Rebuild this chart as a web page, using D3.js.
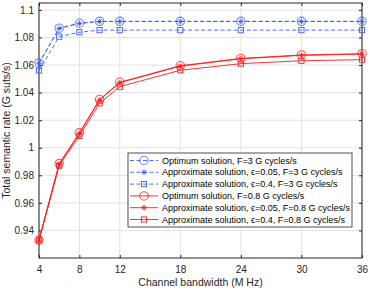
<!DOCTYPE html>
<html>
<head>
<meta charset="utf-8">
<script src="https://cdn.jsdelivr.net/npm/d3@7"></script>
<style>
  body { margin: 0; background: #fff; }
  svg { font-family: "Liberation Sans", Arial, sans-serif; }
</style>
</head>
<body>
<figure style="margin:0"></figure>
<script>
const bandwidth = [4, 6, 8, 10, 12, 18, 24, 30, 36];
const xTicks = [4, 8, 12, 18, 24, 30, 36];
const yTicks = [0.94, 0.96, 0.98, 1, 1.02, 1.04, 1.06, 1.08, 1.1];

const optF3 = [1.0615, 1.0867, 1.0903, 1.0917, 1.0917, 1.0917, 1.0917, 1.0917, 1.0917];
const eps005F3 = [1.0612, 1.0865, 1.0902, 1.0916, 1.0916, 1.0916, 1.0916, 1.0916, 1.0916];
const eps04F3 = [1.0560, 1.0806, 1.0838, 1.0853, 1.0853, 1.0853, 1.0853, 1.0853, 1.0853];
const optF08 = [0.9330, 0.9885, 1.0108, 1.0350, 1.0475, 1.0595, 1.0648, 1.0673, 1.0682];
const eps005F08 = [0.9329, 0.9880, 1.0103, 1.0346, 1.0472, 1.0592, 1.0645, 1.0670, 1.0679];
const eps04F08 = [0.9328, 0.9870, 1.0086, 1.0322, 1.0443, 1.0562, 1.0610, 1.0631, 1.0639];

const labels = [
  "Optimum solution, F=3 G cycles/s",
  "Approximate solution, ϵ=0.05, F=3 G cycles/s",
  "Approximate solution, ϵ=0.4, F=3 G cycles/s",
  "Optimum solution, F=0.8 G cycles/s",
  "Approximate solution, ϵ=0.05, F=0.8 G cycles/s",
  "Approximate solution, ϵ=0.4, F=0.8 G cycles/s",
];

const blue = "#3a5cff";
const red = "#ff1a1a";

const series = [
  { values: optF3, color: blue, dash: "4,2.5", marker: "circle" },
  { values: eps005F3, color: blue, dash: "4,2.5", marker: "star" },
  { values: eps04F3, color: blue, dash: "4,2.5", marker: "square" },
  { values: optF08, color: red, dash: null, marker: "circle" },
  { values: eps005F08, color: red, dash: null, marker: "star" },
  { values: eps04F08, color: red, dash: null, marker: "square" },
];

const width = 370;
const height = 291;
const margin = { top: 3, right: 8, bottom: 33, left: 39 };

const svg = d3.select("figure").append("svg")
  .attr("width", width).attr("height", height);

const x = d3.scaleLinear().domain([4, 36])
  .range([margin.left, width - margin.right]);
const y = d3.scaleLinear().domain([0.92, 1.105])
  .range([height - margin.bottom, margin.top]);

// grid
svg.append("g").selectAll("line.gx").data(xTicks).enter().append("line")
  .attr("x1", d => x(d)).attr("x2", d => x(d))
  .attr("y1", y.range()[0]).attr("y2", y.range()[1])
  .attr("stroke", "#e3e3e3").attr("stroke-width", 1);
svg.append("g").selectAll("line.gy").data(yTicks).enter().append("line")
  .attr("y1", d => y(d)).attr("y2", d => y(d))
  .attr("x1", x.range()[0]).attr("x2", x.range()[1])
  .attr("stroke", "#e3e3e3").attr("stroke-width", 1);

// axes (ticks inward)
const axisColor = "#262626";
const styleAxis = g => {
  g.select(".domain").remove();
  g.selectAll(".tick line").attr("stroke", axisColor);
  g.selectAll(".tick text").attr("fill", axisColor).style("font-size", "10px");
};
svg.append("g")
  .attr("transform", `translate(0,${y.range()[0]})`)
  .call(d3.axisBottom(x).tickValues(xTicks).tickSizeInner(-3).tickSizeOuter(0).tickPadding(8))
  .call(styleAxis);
svg.append("g")
  .attr("transform", `translate(0,${y.range()[1]})`)
  .call(d3.axisTop(x).tickValues(xTicks).tickSizeInner(-3).tickSizeOuter(0).tickFormat(""))
  .call(styleAxis);
svg.append("g")
  .attr("transform", `translate(${x.range()[0]},0)`)
  .call(d3.axisLeft(y).tickValues(yTicks).tickSizeInner(-3).tickSizeOuter(0).tickPadding(5)
    .tickFormat(d => d3.format("")(+d.toFixed(2))))
  .call(styleAxis);
svg.append("g")
  .attr("transform", `translate(${x.range()[1]},0)`)
  .call(d3.axisRight(y).tickValues(yTicks).tickSizeInner(-3).tickSizeOuter(0).tickFormat(""))
  .call(styleAxis);

svg.append("rect")
  .attr("x", x.range()[0]).attr("y", y.range()[1])
  .attr("width", x.range()[1] - x.range()[0])
  .attr("height", y.range()[0] - y.range()[1])
  .attr("fill", "none").attr("stroke", axisColor).attr("stroke-width", 1);

// markers
const drawMarker = (g, type, color, cx, cy) => {
  if (type === "circle") {
    g.append("circle").attr("cx", cx).attr("cy", cy).attr("r", 4.2)
      .attr("fill", "none").attr("stroke", color).attr("stroke-width", 1.1)
      .attr("stroke-opacity", 0.75);
  } else if (type === "square") {
    g.append("rect").attr("x", cx - 2.6).attr("y", cy - 2.6)
      .attr("width", 5.2).attr("height", 5.2)
      .attr("fill", "none").attr("stroke", color).attr("stroke-width", 0.9);
  } else {
    const r = 2.8;
    const p = d3.path();
    p.moveTo(cx - r, cy); p.lineTo(cx + r, cy);
    p.moveTo(cx, cy - r); p.lineTo(cx, cy + r);
    const k = r * 0.72;
    p.moveTo(cx - k, cy - k); p.lineTo(cx + k, cy + k);
    p.moveTo(cx - k, cy + k); p.lineTo(cx + k, cy - k);
    g.append("path").attr("d", p.toString())
      .attr("stroke", color).attr("stroke-width", 0.9).attr("fill", "none");
  }
};

const line = d3.line().x((d, i) => x(bandwidth[i])).y(d => y(d));

series.forEach(s => {
  const g = svg.append("g");
  g.append("path").datum(s.values)
    .attr("d", line)
    .attr("fill", "none")
    .attr("stroke", s.color)
    .attr("stroke-width", 0.9)
    .attr("stroke-dasharray", s.dash);
  s.values.forEach((v, i) => drawMarker(g, s.marker, s.color, x(bandwidth[i]), y(v)));
});

// legend
const lg = svg.append("g").attr("transform", "translate(128,153)");
lg.append("rect").attr("width", 224).attr("height", 74)
  .attr("fill", "#fff").attr("stroke", axisColor).attr("stroke-width", 0.8);
series.forEach((s, i) => {
  const cy = 7.5 + i * 11.8;
  lg.append("line").attr("x1", 2).attr("x2", 30).attr("y1", cy).attr("y2", cy)
    .attr("stroke", s.color).attr("stroke-width", 0.9).attr("stroke-dasharray", s.dash);
  drawMarker(lg, s.marker, s.color, 16, cy);
  lg.append("text").attr("x", 34).attr("y", cy).attr("dy", "0.35em")
    .style("font-size", "9px").attr("fill", "#000").text(labels[i]);
});

// axis labels
svg.append("text")
  .attr("x", (x.range()[0] + x.range()[1]) / 2).attr("y", 286)
  .attr("text-anchor", "middle").style("font-size", "10.5px").attr("fill", axisColor)
  .text("Channel bandwidth (M Hz)");
svg.append("text")
  .attr("transform", `translate(10,${(y.range()[0] + y.range()[1]) / 2}) rotate(-90)`)
  .attr("text-anchor", "middle").style("font-size", "10.5px").attr("fill", axisColor)
  .text("Total semantic rate (G suts/s)");
</script>
</body>
</html>
